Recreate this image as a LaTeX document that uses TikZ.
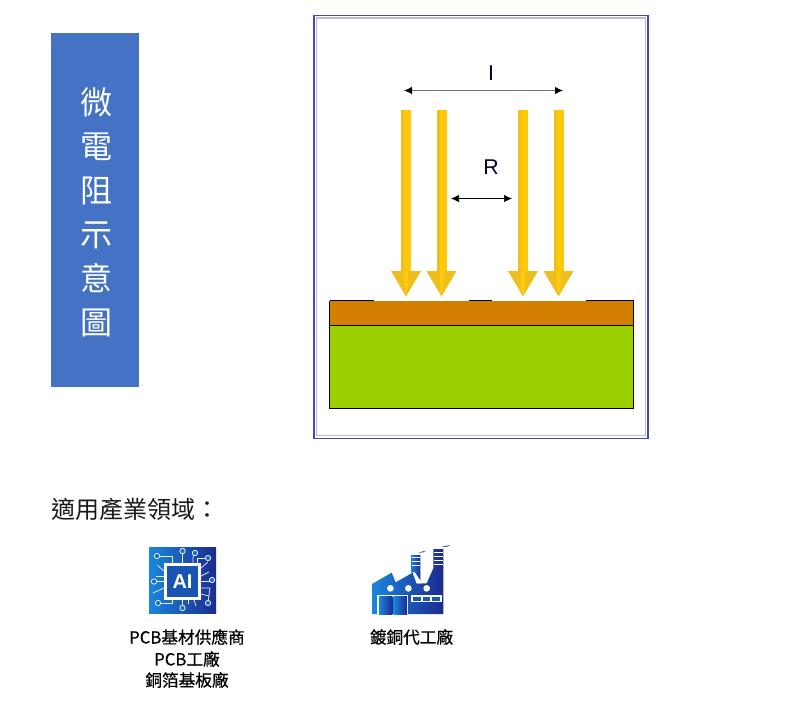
\documentclass[tikz,border=0pt]{standalone}
\usepackage{fontspec}
\usetikzlibrary{arrows.meta}
\newfontfamily\cjk{Noto Sans CJK TC}
\newfontfamily\cjkm{Noto Sans CJK TC}[FakeBold=0.5]
\setmainfont{Liberation Sans}
\definecolor{framec}{HTML}{4848B0}
\definecolor{framel}{HTML}{B8B8E4}
\definecolor{bluebox}{HTML}{4472C4}
\definecolor{cop}{HTML}{D27F00}
\definecolor{sub}{HTML}{9BD000}
\definecolor{ashaft}{HTML}{FFC90A}
\definecolor{aside}{HTML}{EDBF1C}
\definecolor{iconl}{HTML}{1A86DC}
\definecolor{iconr}{HTML}{1C2A90}
\tikzset{
  dim/.style={draw=black!55,line width=0.6pt,{Latex[length=6pt,width=5.5pt,black]}-{Latex[length=6pt,width=5.5pt,black]}},
  dimb/.style={draw=black,line width=0.5pt,{Latex[length=6pt,width=5.5pt,black]}-{Latex[length=6pt,width=5.5pt,black]}},
  edge/.style={draw=black,line width=0.75pt},
  heading/.style={font=\cjk\fontsize{18}{22}\selectfont,anchor=west,text=black!90},
  caption/.style={font=\cjkm\fontsize{12.5}{16}\selectfont,text=black},
  wire/.style={draw=white!88!iconl,line width=0.55pt},
  pad/.style={draw=white!90!iconl,line width=0.6pt,fill=iconl!70!iconr}
}
\newcommand{\yellowarrow}[1]{%
  \begin{scope}[shift={(#1,0)}]
    \fill[aside] (-5,110) rectangle (5,272);
    \fill[ashaft] (-2,110) rectangle (5,272);
    \fill[aside] (-5,271) -- (-15,271) -- (0,296.5) -- (15,271) -- (5,271) -- cycle;
    \fill[ashaft] (-2,271) rectangle (2,288);
    \fill[ashaft] (-2,288) -- (2,288) -- (0,295) -- cycle;
  \end{scope}}
\begin{document}
\begin{tikzpicture}[x=0.75pt,y=-0.75pt]
\useasboundingbox (0,0) rectangle (800,726);
\fill[white] (0,0) rectangle (800,726);

% title
\node[fill=bluebox,minimum width=66pt,minimum height=265.5pt,inner sep=0pt,anchor=north west] (title) at (51,33) {};
\node[font=\cjk\fontsize{24}{33}\selectfont,text=white,align=center,inner sep=0pt] (titletext) at (96,212)
  {微\\電\\阻\\示\\意\\圖};

% frame
\draw[framec,line width=1.1pt] (314,15.5) rectangle (648,438.5);
\draw[framel,line width=0.8pt] (316.5,18) rectangle (645.5,435.5);

% layers
\fill[sub] (329.5,325.5) rectangle (633.5,408);
\fill[cop] (329.5,300.5) rectangle (633.5,325.5);
\draw[edge] (329.5,300.5) -- (329.5,408) -- (633.5,408) -- (633.5,300.5);
\draw[edge] (329.5,325.5) -- (633.5,325.5);
\draw[edge] (329.5,300.5) -- (374,300.5);
\draw[edge] (469,300.5) -- (492,300.5);
\draw[edge] (586,300.5) -- (633.5,300.5);

% arrows
\yellowarrow{406}
\yellowarrow{441.5}
\yellowarrow{523}
\yellowarrow{558.5}

% dimensions
\coordinate (il) at (404,90.5);
\coordinate (ir) at (563,90.5);
\coordinate (rl) at (451,198.5);
\coordinate (rr) at (512,198.5);
\draw[dim] (il) -- (ir);
\draw[dimb] (rl) -- (rr);
\node[font=\fontsize{16}{18}\selectfont,text=black!85!blue,inner sep=0pt] (ilabel) at (491,73) {I};
\node[font=\fontsize{16}{18}\selectfont,text=black!85!blue,inner sep=0pt] (rlabel) at (491,167) {R};

% heading
\node[heading,inner sep=0pt] (head) at (51.5,509) {適用產業領域：};

% AI icon
\begin{scope}
  \shade[left color=iconl,right color=iconr] (149,547) rectangle (216,613.5);
  \foreach \x/\a/\b in {156/547/0}{}
  % circuit wires
  \draw[wire] (172,563) -- (172,556) -- (157,556);
  \draw[wire] (182.5,563) -- (182.5,552);
  \draw[wire] (193,563) -- (193,557) -- (194,553);
  \draw[wire] (197,563) -- (197,558) -- (208,558);
  \draw[wire] (164,571) -- (157,565);
  \draw[wire] (164,576) -- (156,576);
  \draw[wire] (164,581.5) -- (154,581.5);
  \draw[wire] (164,588) -- (153,593);
  \draw[wire] (172,600) -- (172,603) -- (158,603);
  \draw[wire] (182.5,600) -- (182.5,607);
  \draw[wire] (188,600) -- (188,604);
  \draw[wire] (194,600) -- (196,606);
  \draw[wire] (201,568) -- (208,562);
  \draw[wire] (201,576) -- (209,572);
  \draw[wire] (201,581) -- (210,581);
  \draw[wire] (201,588) -- (210,588) -- (208,602);
  \draw[wire] (201,594) -- (209,596);
  \foreach \p/\q in {157/556,182.5/551,195/553,208/558,154/581.5,212/580,158/603,182.5/608,208/603}
    \draw[pad] (\p,\q) circle (2pt);
  \fill[white] (164,563) rectangle (201,600);
  \fill[iconl!45!iconr] (167,566) rectangle (198,597);
  \node[font=\bfseries\fontsize{15}{15}\selectfont,text=white,inner sep=0pt] (ai) at (182.5,581.5) {AI};
\end{scope}

% factory icon (3x zoom coordinates, origin 360,535)
\begin{scope}[shift={(360,535)},x=0.25pt,y=-0.25pt]
  \shade[left color=iconl,right color=iconr]
    (36,237) -- (36,147) -- (95,113) -- (107,142) -- (158,113) -- (170,145)
    -- (200,145) -- (220,100) -- (220,42) -- (250,42) -- (250,237) -- cycle;
  \shade[left color=iconl,right color=iconr] (153,60) -- (181,60) -- (181,138) -- (165,113) -- (153,113) -- cycle;
  \fill[white] (158,113) -- (170,145) -- (184,145) -- (181,136) -- (165,113) -- cycle;
  \foreach \y in {66,78,90}{\fill[white] (155,\y) rectangle (181,\y+3);}
  \foreach \y in {50,62,75,88}{\fill[white] (222,\y) rectangle (250,\y+3);}
  \foreach \x in {91,145,200}{\fill[white] (\x,160) circle (10);}
  \fill[white] (52,180) rectangle (145,237);
  \shade[left color=iconl,right color=iconr] (57,185) rectangle (97,237);
  \shade[left color=iconl,right color=iconr] (101,185) rectangle (141,237);
  \fill[white] (153,180) rectangle (246,201);
  \fill[iconl!50!iconr] (159,185) rectangle (183,197);
  \fill[iconl!50!iconr] (188,185) rectangle (211,197);
  \fill[iconl!50!iconr] (216,185) rectangle (241,197);
  \fill[iconl!20!iconr] (175,53) -- (197,47) -- (190,52) -- cycle;
  \fill[iconl!20!iconr] (243,36) -- (270,30) -- (262,35) -- cycle;
\end{scope}

% captions
\node[caption,inner sep=0pt] (c1) at (187,637) {PCB基材供應商};
\node[caption,inner sep=0pt] (c2) at (187,659) {PCB工廠};
\node[caption,inner sep=0pt] (c3) at (187,680) {銅箔基板廠};
\node[caption,inner sep=0pt] (c4) at (411.5,637) {鍍銅代工廠};
\end{tikzpicture}
\end{document}
